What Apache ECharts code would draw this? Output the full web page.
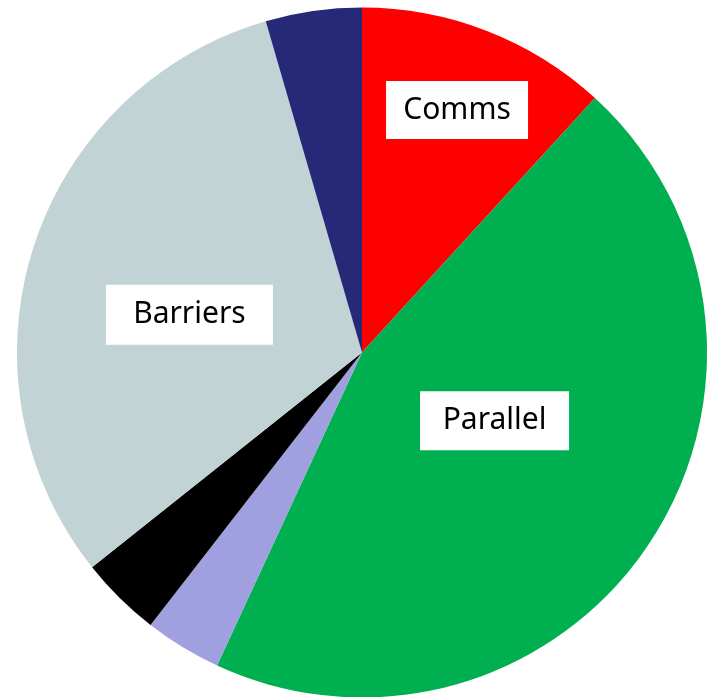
<!DOCTYPE html>
<html>
<head>
<meta charset="utf-8">
<style>
  html, body { margin: 0; padding: 0; background: #ffffff; }
  #chart { width: 709px; height: 697px; }
</style>
<script src="https://cdn.jsdelivr.net/npm/echarts@6/dist/echarts.min.js"></script>
</head>
<body>
<div id="chart"></div>
<script>
// Share of time per activity (percent), clockwise from 12 o'clock
const categories = ['Comms', 'Parallel', 'Other A', 'Other B', 'Barriers', 'Other C'];
const shares = [11.8, 45.1, 3.6, 3.8, 31.2, 4.5];
const labelled = ['Comms', 'Parallel', 'Barriers'];

const sliceColors = {
  'Comms': '#FF0000',
  'Parallel': '#00B050',
  'Other A': '#A09FDF',
  'Other B': '#000000',
  'Barriers': '#C1D3D5',
  'Other C': '#262878'
};

// Label box placement: angle (deg, clockwise from top) and distance as a fraction of the radius
const labelPlacement = {
  'Comms':    { angle: 21.4,  dist: 0.755, w: 142, h: 58 },
  'Parallel': { angle: 117.2, dist: 0.432, w: 149, h: 59 },
  'Barriers': { angle: 282.3, dist: 0.512, w: 167, h: 60 }
};

const W = 709, H = 697;
const CX = 362, CY = 352.5, R = 345;

const chart = echarts.init(document.getElementById('chart'), null, { renderer: 'canvas' });

const data = categories.map((name, i) => {
  const item = {
    name: name,
    value: shares[i],
    itemStyle: { color: sliceColors[name] }
  };
  if (labelled.includes(name)) {
    const p = labelPlacement[name];
    item.label = {
      show: true,
      width: p.w,
      height: p.h,
      lineHeight: p.h
    };
  } else {
    item.label = { show: false };
  }
  return item;
});

chart.setOption({
  animation: false,
  backgroundColor: '#ffffff',
  series: [{
    type: 'pie',
    center: [CX, CY],
    radius: [0, R],
    startAngle: 90,
    clockwise: true,
    avoidLabelOverlap: false,
    itemStyle: { borderWidth: 0 },
    label: {
      position: 'inside',
      formatter: '{b}',
      color: '#000000',
      fontFamily: 'Noto Sans',
      fontSize: 30,
      backgroundColor: '#ffffff',
      align: 'center',
      verticalAlign: 'middle',
      padding: 0
    },
    labelLine: { show: false },
    emphasis: { disabled: true },
    labelLayout: function (params) {
      const name = categories[params.dataIndex];
      const p = labelPlacement[name];
      if (!p) return {};
      const a = p.angle * Math.PI / 180;
      return {
        x: CX + p.dist * R * Math.sin(a),
        y: CY - p.dist * R * Math.cos(a),
        align: 'center',
        verticalAlign: 'middle'
      };
    },
    data: data
  }]
});
</script>
</body>
</html>
